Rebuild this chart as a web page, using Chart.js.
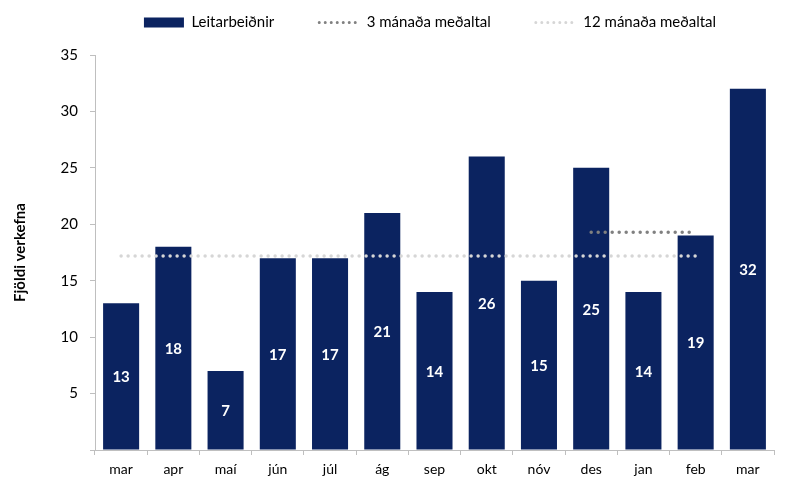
<!DOCTYPE html>
<html>
<head>
<meta charset="utf-8">
<script src="https://cdn.jsdelivr.net/npm/chart.js@4/dist/chart.umd.min.js"></script>
<style>
  html, body { margin: 0; padding: 0; background: #fff; }
  #wrap { width: 800px; height: 487px; }
</style>
</head>
<body>
<div id="wrap"><canvas id="barChart"></canvas></div>
<script>
// Data
const months = ['mar', 'apr', 'maí', 'jún', 'júl', 'ág', 'sep', 'okt', 'nóv', 'des', 'jan', 'feb', 'mar'];
const requests = [13, 18, 7, 17, 17, 21, 14, 26, 15, 25, 14, 19, 32];
const avg3 = [null, null, null, null, null, null, null, null, null, 19.3, 19.3, 19.3, null];
const avg12 = [17.2, 17.2, 17.2, 17.2, 17.2, 17.2, 17.2, 17.2, 17.2, 17.2, 17.2, 17.2, null];
const yTicks = [0, 5, 10, 15, 20, 25, 30, 35];

const navy = '#0b2360';
const fontFam = 'Lato, "Open Sans", sans-serif';

// white numbers in the middle of each bar
const barLabels = {
    id: 'barLabels',
    afterDatasetsDraw(chart) {
        const ctx = chart.ctx;
        const meta = chart.getDatasetMeta(2);
        ctx.save();
        ctx.fillStyle = '#ffffff';
        ctx.font = 'bold 15px ' + fontFam;
        ctx.textAlign = 'center';
        ctx.textBaseline = 'middle';
        meta.data.forEach((bar, i) => {
            const mid = (bar.y + bar.base) / 2;
            ctx.fillText(String(requests[i]), bar.x, mid + 1);
        });
        ctx.restore();
    }
};

// extra room under the legend, and nudge it right like the original
const legendTweak = {
    id: 'legendTweak',
    beforeInit(chart) {
        const origFit = chart.legend.fit;
        chart.legend.fit = function fit() {
            origFit.bind(chart.legend)();
            this.height += 15;
        };
    },
    afterLayout(chart) {
        chart.legend.left += 43;
        chart.legend.right += 43;
    }
};

const data = {
    labels: months,
    datasets: [
        {
            type: 'line',
            label: '3 mánaða meðaltal',
            data: avg3,
            borderColor: '#808080',
            borderWidth: 3.5,
            borderDash: [0, 7],
            borderCapStyle: 'round',
            pointRadius: 0,
        },
        {
            type: 'line',
            label: '12 mánaða meðaltal',
            data: avg12,
            borderColor: '#d6d6d6',
            borderWidth: 3.5,
            borderDash: [0, 7],
            borderCapStyle: 'round',
            pointRadius: 0,
        },
        {
            type: 'bar',
            label: 'Leitarbeiðnir',
            data: requests,
            backgroundColor: navy,
            barPercentage: 0.69,
            categoryPercentage: 1.0,
        },
    ],
};

const options = {
    responsive: true,
    maintainAspectRatio: false,
    animation: false,
    layout: { padding: { left: 0, right: 26, top: -30, bottom: 0 } },
    plugins: {
        tooltip: { enabled: false },
        legend: {
            position: 'top',
            labels: {
                usePointStyle: true,
                pointStyleWidth: 40,
                boxHeight: 10,
                padding: 45,
                color: '#000',
                font: { family: fontFam, size: 15 },
                generateLabels(chart) {
                    return [
                        { text: 'Leitarbeiðnir', datasetIndex: 2, fillStyle: navy, strokeStyle: navy,
                          lineWidth: 0, pointStyle: 'rect' },
                        { text: '3 mánaða meðaltal', datasetIndex: 0, fillStyle: 'rgba(0,0,0,0)', strokeStyle: '#808080',
                          lineWidth: 3, lineDash: [0, 6], lineCap: 'round', pointStyle: 'line' },
                        { text: '12 mánaða meðaltal', datasetIndex: 1, fillStyle: 'rgba(0,0,0,0)', strokeStyle: '#d6d6d6',
                          lineWidth: 3, lineDash: [0, 6], lineCap: 'round', pointStyle: 'line' },
                    ];
                }
            }
        }
    },
    scales: {
        x: {
            grid: { display: true, drawOnChartArea: false, tickLength: 5, color: '#bfbfbf' },
            border: { color: '#bfbfbf' },
            ticks: { color: '#000', font: { family: fontFam, size: 14 }, padding: 6 },
            afterFit(scale) { scale.height = 37; }
        },
        y: {
            min: 0,
            max: 35,
            afterBuildTicks(scale) { scale.ticks = yTicks.map(v => ({ value: v })); },
            grid: { display: true, drawOnChartArea: false, tickLength: 5, color: '#bfbfbf' },
            border: { color: '#bfbfbf' },
            ticks: {
                color: '#000',
                font: { family: fontFam, size: 15 },
                padding: 12,
                callback: v => (v === 0 ? '' : v)
            },
            title: {
                display: true,
                text: 'Fjöldi verkefna',
                color: '#000',
                font: { family: fontFam, size: 15, weight: 'bold' },
                padding: { top: 11, bottom: 20 }
            },
            afterFit(scale) { scale.width = 95; }
        }
    }
};

const ctx = document.getElementById('barChart').getContext('2d');
const myBarChart = new Chart(ctx, {
    type: 'bar',
    data,
    options,
    plugins: [barLabels, legendTweak],
});
</script>
</body>
</html>
